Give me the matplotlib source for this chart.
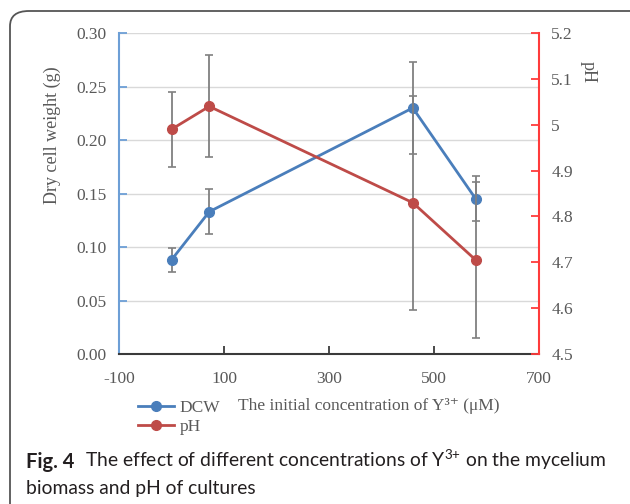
import matplotlib
matplotlib.use("Agg")
import matplotlib.pyplot as plt
from matplotlib.lines import Line2D
from matplotlib.patches import FancyBboxPatch

# data
conc = [0, 72, 460, 580]
dcw = [0.088, 0.133, 0.230, 0.145]
dcw_err = [0.011, 0.021, 0.043, 0.021]
ph = [4.99, 5.04, 4.83, 4.705]
ph_err = [0.082, 0.111, 0.233, 0.171]

x_ticks = [-100, 100, 300, 500, 700]
dcw_ticks = [0.00, 0.05, 0.10, 0.15, 0.20, 0.25, 0.30]
ph_ticks = [4.5, 4.6, 4.7, 4.8, 4.9, 5.0, 5.1, 5.2]
ph_labels = ["4.5", "4.6", "4.7", "4.8", "4.9", "5", "5.1", "5.2"]

BLUE = "#4a7ebb"
RED = "#be4b48"
GREY = "#808080"
TXT = "#595959"
SERIF = ["Liberation Serif", "DejaVu Serif"]
CAP_FONT = "Lato"

plt.rcParams["font.family"] = SERIF
plt.rcParams["axes.unicode_minus"] = False
plt.rcParams["mathtext.fontset"] = "custom"
plt.rcParams["mathtext.rm"] = CAP_FONT

fig = plt.figure(figsize=(6.3, 5.04), dpi=100)
ax = fig.add_axes([0.189, 0.2976, 0.666, 0.6369])
ax2 = ax.twinx()

# grid
ax.set_axisbelow(True)
ax.grid(axis="y", color="#d9d9d9", linewidth=1)

ax.errorbar(conc, dcw, yerr=dcw_err, fmt="none", ecolor=GREY, elinewidth=1.3,
            capsize=3, capthick=1.2, zorder=2)
ax.plot(conc, dcw, color=BLUE, linewidth=2, marker="o", markersize=7, zorder=3)

ax2.errorbar(conc, ph, yerr=ph_err, fmt="none", ecolor=GREY, elinewidth=1.3,
             capsize=3, capthick=1.2, zorder=2)
ax2.plot(conc, ph, color=RED, linewidth=2, marker="o", markersize=7, zorder=3)

ax.set_xlim(-100, 700)
ax.set_ylim(0, 0.30)
ax2.set_ylim(4.5, 5.2)
ax.set_xticks(x_ticks)
ax.set_yticks(dcw_ticks)
ax.set_yticklabels([f"{v:.2f}" for v in dcw_ticks])
ax2.set_yticks(ph_ticks)
ax2.set_yticklabels(ph_labels)

for a in (ax, ax2):
    a.spines["top"].set_visible(False)
ax.spines["right"].set_visible(False)
ax.spines["left"].set_color("#6d9fd6")
ax.spines["left"].set_linewidth(1.5)
ax.spines["bottom"].set_color("#3a3a3a")
ax.spines["bottom"].set_linewidth(1.5)
ax2.spines["left"].set_visible(False)
ax2.spines["bottom"].set_visible(False)
ax2.spines["right"].set_color("#ff3b3b")
ax2.spines["right"].set_linewidth(1.5)

ax.tick_params(axis="y", direction="in", length=6, width=1.3, color="#6d9fd6",
               labelcolor=TXT, labelsize=12.5, pad=9)
ax.tick_params(axis="x", direction="in", length=6, width=1.3, color="#3a3a3a",
               labelcolor=TXT, labelsize=12.5, pad=12)
ax2.tick_params(axis="y", direction="in", length=6, width=1.3, color="#ff3b3b",
                labelcolor=TXT, labelsize=12.5, pad=9)

fig.text(52 / 630, 1 - 135 / 504, "Dry cell weight (g)", rotation=90,
         ha="center", va="center", color=TXT, fontsize=13)
fig.text(588 / 630, 1 - 72 / 504, "pH", rotation=-90,
         ha="center", va="center", color=TXT, fontsize=13)

# legend plus axis title placed beside it
handles = [Line2D([], [], color=BLUE, linewidth=2, marker="o", markersize=7),
           Line2D([], [], color=RED, linewidth=2, marker="o", markersize=7)]
fig.legend(handles, ["DCW", "pH"], loc="upper left",
           bbox_to_anchor=(129 / 630, 1 - 391 / 504), frameon=False,
           fontsize=12.5, handlelength=2.1, handletextpad=0.3,
           labelspacing=0.15, borderpad=0, labelcolor=TXT)
fig.text(238 / 630, 1 - 406 / 504, "The initial concentration of Y³⁺ (μM)",
         ha="left", va="center", color=TXT, fontsize=12.5, family=SERIF)

# caption
t1 = fig.text(26 / 630, 1 - 468 / 504, "Fig. 4", fontsize=14.5,
              fontweight="bold", family=CAP_FONT, color="#231f20",
              ha="left", va="baseline")
ax.annotate("The effect of different concentrations of Y$^{3{+}}$ on the mycelium",
            xy=(1, 0), xycoords=t1, xytext=(8, 0), textcoords="offset points",
            fontsize=13.9, family=CAP_FONT, color="#231f20",
            ha="left", va="bottom", annotation_clip=False)
fig.text(26 / 630, 1 - 494 / 504, "biomass and pH of cultures", fontsize=13.9,
         family=CAP_FONT, color="#231f20", ha="left", va="baseline")

frame = FancyBboxPatch((10 / 630, -0.05), 640 / 630, 0.05 + 1 - 11 / 504,
                       boxstyle="round,pad=0,rounding_size=0.03",
                       transform=fig.transFigure, fill=False,
                       edgecolor="#555555", linewidth=1.3, clip_on=False)
fig.add_artist(frame)

fig.savefig("out.png", dpi=100)
